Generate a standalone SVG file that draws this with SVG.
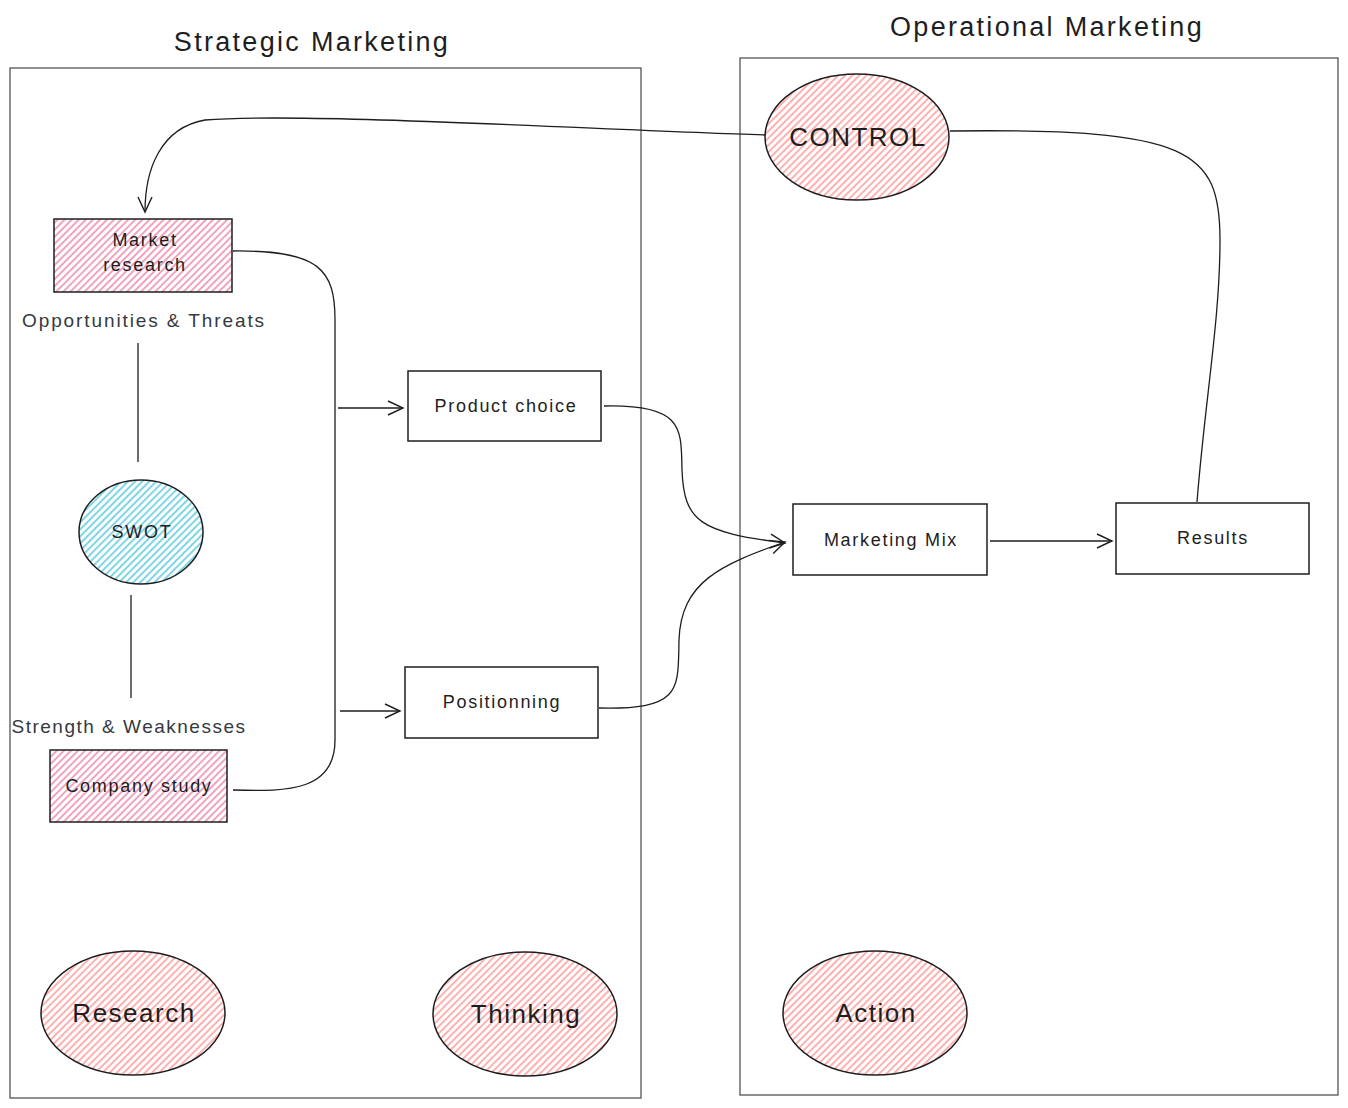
<svg xmlns="http://www.w3.org/2000/svg" width="1348" height="1108" viewBox="0 0 1348 1108">
<style>
.frame{fill:none;stroke:#555;stroke-width:1.3}
.box{stroke:#1e1e1e;stroke-width:1.5}
.t{font-family:"Liberation Sans",Arial,sans-serif;fill:#1e1e1e;text-anchor:middle;dominant-baseline:central;letter-spacing:1.7px}
.title{font-size:27px;letter-spacing:2.3px}
.lbl{font-size:18px}
.note{font-size:19px;fill:#343a40;letter-spacing:1.9px}
.big{font-size:26px;letter-spacing:1.5px}
.conn{fill:none;stroke:#1e1e1e;stroke-width:1.3}
</style>
<defs>
<pattern id="hPink" width="5" height="5" patternUnits="userSpaceOnUse" patternTransform="rotate(45)">
<rect width="5" height="5" fill="#fff"/><line x1="1" y1="0" x2="1" y2="5" stroke="#e9739a" stroke-width="1.3"/></pattern>
<pattern id="hRed" width="5" height="5" patternUnits="userSpaceOnUse" patternTransform="rotate(45)">
<rect width="5" height="5" fill="#fff"/><line x1="1" y1="0" x2="1" y2="5" stroke="#ff8787" stroke-width="1.3"/></pattern>
<pattern id="hBlue" width="5" height="5" patternUnits="userSpaceOnUse" patternTransform="rotate(45)">
<rect width="5" height="5" fill="#fff"/><line x1="1" y1="0" x2="1" y2="5" stroke="#3bc0d8" stroke-width="1.3"/></pattern>
<marker id="arr" viewBox="-16 -9 18 18" markerWidth="18" markerHeight="18" refX="0" refY="0" orient="auto" markerUnits="userSpaceOnUse">
<path d="M-15,-7 L0,0 L-15,7" fill="none" stroke="#1e1e1e" stroke-width="1.4"/></marker>
</defs>
<rect width="1348" height="1108" fill="#fff"/>

<g id="frame-strategic">
<rect class="frame" x="10" y="68" width="631" height="1030"/>
<text class="t title" x="312" y="42">Strategic Marketing</text>
</g>
<g id="frame-operational">
<rect class="frame" x="740" y="58" width="598" height="1037"/>
<text class="t title" x="1047" y="27">Operational Marketing</text>
</g>

<g id="connectors">
<path class="conn" d="M233,251 C320,250 335,270 335,320 L335,740 C335,790 290,792 233,790"/>
<line class="conn" x1="338" y1="408" x2="403" y2="408" marker-end="url(#arr)"/>
<line class="conn" x1="340" y1="711" x2="400" y2="711" marker-end="url(#arr)"/>
<path class="conn" d="M604,406 C685,404 681,430 682,470 C684,522 700,532 785,543" marker-end="url(#arr)"/>
<path class="conn" d="M599,708 C682,710 678,690 679,640 C681,582 720,565 785,542" marker-end="url(#arr)"/>
<line class="conn" x1="990" y1="541" x2="1112" y2="541" marker-end="url(#arr)"/>
<path class="conn" d="M1197,502 C1205,400 1220,320 1220,240 C1220,150 1190,128 950,131"/>
<path class="conn" d="M765,135 C600,130 300,112 205,120 C160,128 145,170 145,212" marker-end="url(#arr)"/>
<line class="conn" x1="138" y1="343" x2="138" y2="462"/>
<line class="conn" x1="131" y1="595" x2="131" y2="698"/>
</g>

<g id="market-research">
<rect class="box" x="54" y="219" width="178" height="73" fill="url(#hPink)"/>
<text class="t lbl" x="145" y="240">Market</text>
<text class="t lbl" x="145" y="265">research</text>
</g>
<g id="opportunities">
<text class="t note" x="144" y="320">Opportunities &amp; Threats</text>
</g>
<g id="swot">
<ellipse class="box" cx="141" cy="532" rx="62" ry="52" fill="url(#hBlue)"/>
<text class="t lbl" x="142" y="532">SWOT</text>
</g>
<g id="strengths">
<text class="t note" x="129" y="726" style="letter-spacing:1.5px">Strength &amp; Weaknesses</text>
</g>
<g id="company-study">
<rect class="box" x="50" y="750" width="177" height="72" fill="url(#hPink)"/>
<text class="t lbl" x="139" y="786">Company study</text>
</g>
<g id="product-choice">
<rect class="box" x="408" y="371" width="193" height="70" fill="#fff"/>
<text class="t lbl" x="506" y="406">Product choice</text>
</g>
<g id="positionning">
<rect class="box" x="405" y="667" width="193" height="71" fill="#fff"/>
<text class="t lbl" x="502" y="702">Positionning</text>
</g>
<g id="marketing-mix">
<rect class="box" x="793" y="504" width="194" height="71" fill="#fff"/>
<text class="t lbl" x="891" y="540">Marketing Mix</text>
</g>
<g id="results">
<rect class="box" x="1116" y="503" width="193" height="71" fill="#fff"/>
<text class="t lbl" x="1213" y="538">Results</text>
</g>
<g id="control">
<ellipse class="box" cx="857" cy="137" rx="92" ry="63" fill="url(#hRed)"/>
<text class="t big" x="858" y="137">CONTROL</text>
</g>
<g id="research">
<ellipse class="box" cx="133" cy="1013" rx="92" ry="62" fill="url(#hRed)"/>
<text class="t big" x="134" y="1013">Research</text>
</g>
<g id="thinking">
<ellipse class="box" cx="525" cy="1014" rx="92" ry="62" fill="url(#hRed)"/>
<text class="t big" x="526" y="1014">Thinking</text>
</g>
<g id="action">
<ellipse class="box" cx="875" cy="1013" rx="92" ry="62" fill="url(#hRed)"/>
<text class="t big" x="876" y="1013">Action</text>
</g>
</svg>
